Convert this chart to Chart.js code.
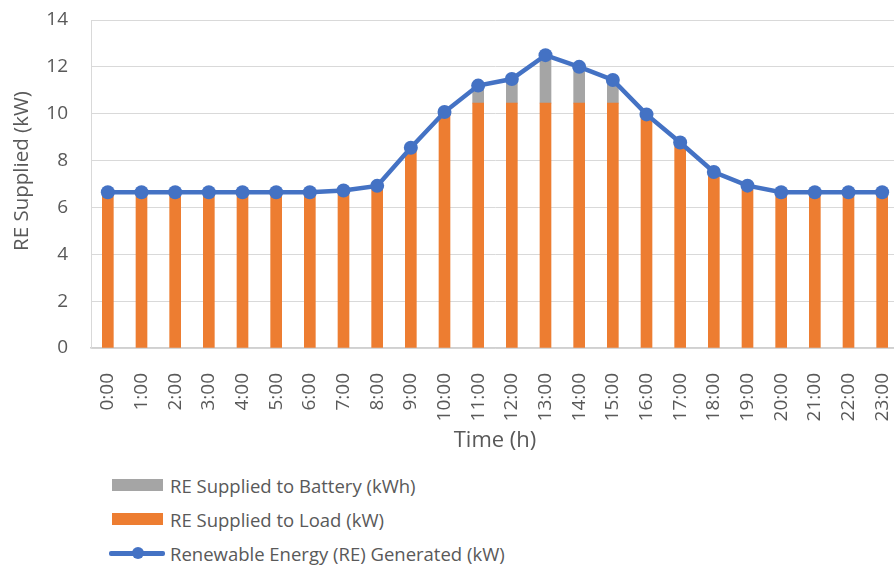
<!DOCTYPE html>
<html>
<head>
<meta charset="utf-8">
<script src="https://cdn.jsdelivr.net/npm/chart.js@4"></script>
<style>
  html, body { margin: 0; padding: 0; background: #fff; }
  #wrap { position: relative; width: 894px; height: 565px; overflow: hidden; }
  #c { position: absolute; left: 0; top: 0; }
  #legend { position: absolute; left: 109px; top: 468px; font-family: "Open Sans", sans-serif; font-size: 18.5px; color: #595959; }
  .item { display: flex; align-items: center; height: 34px; white-space: nowrap; }
  .sw { width: 51px; height: 12px; margin-right: 7px; margin-left: 3px; }
  .ln { position: relative; width: 56px; height: 12px; margin-right: 5px; }
  .ln::before { content: ""; position: absolute; left: 0; right: 0; top: 4px; height: 4.5px; background: #4472C4; border-radius: 2px; }
  .ln::after { content: ""; position: absolute; left: 23px; top: 0; width: 12px; height: 12px; border-radius: 50%; background: #4472C4; }
</style>
</head>
<body>
<div id="wrap">
  <canvas id="c" width="899" height="454"></canvas>
  <div id="legend"></div>
</div>
<script>
// Hourly renewable energy profile
const hours = ["0:00","1:00","2:00","3:00","4:00","5:00","6:00","7:00","8:00","9:00","10:00","11:00",
               "12:00","13:00","14:00","15:00","16:00","17:00","18:00","19:00","20:00","21:00","22:00","23:00"];
const generated = [6.65,6.65,6.65,6.65,6.65,6.65,6.65,6.72,6.92,8.55,10.07,11.2,
                   11.48,12.5,12.0,11.44,9.97,8.77,7.51,6.93,6.65,6.65,6.65,6.65];
const toLoad = [6.65,6.65,6.65,6.65,6.65,6.65,6.65,6.72,6.92,8.55,10.07,10.45,
                10.45,10.45,10.45,10.45,9.97,8.77,7.51,6.93,6.65,6.65,6.65,6.65];
const toBattery = [0,0,0,0,0,0,0,0,0,0,0,0.75,
                   1.03,2.05,1.55,0.99,0,0,0,0,0,0,0,0];
const yTicks = [0,2,4,6,8,10,12,14];

const labelBattery = "RE Supplied to Battery (kWh)";
const labelLoad = "RE Supplied to Load (kW)";
const labelGen = "Renewable Energy (RE) Generated (kW)";
const yTitle = "RE Supplied (kW)";
const xTitle = "Time (h)";

const FONT = "'Open Sans', sans-serif";
const TXT = "#595959";

// Vertical axis title, drawn beside the value labels
const yTitlePlugin = {
  id: "yTitle",
  afterDraw(chart) {
    const ctx = chart.ctx;
    ctx.save();
    ctx.translate(22, 171);
    ctx.rotate(-Math.PI / 2);
    ctx.font = "20.5px " + FONT;
    ctx.fillStyle = TXT;
    ctx.textAlign = "center";
    ctx.textBaseline = "middle";
    ctx.fillText(yTitle, 0, 0);
    ctx.restore();
  }
};

const chart = new Chart(document.getElementById("c"), {
  type: "bar",
  data: {
    labels: hours,
    datasets: [
      {
        type: "line", label: labelGen, data: generated, stack: "gen", order: 0,
        borderColor: "#4472C4", backgroundColor: "#4472C4", borderWidth: 4.5,
        pointRadius: 7, pointHoverRadius: 7, pointBackgroundColor: "#4472C4",
        pointBorderWidth: 0, tension: 0, clip: false
      },
      {
        label: labelLoad, data: toLoad, stack: "re", order: 1,
        backgroundColor: "#ED7D31", barThickness: 11
      },
      {
        label: labelBattery, data: toBattery, stack: "re", order: 1,
        backgroundColor: "#A5A5A5", barThickness: 11
      }
    ]
  },
  plugins: [yTitlePlugin],
  options: {
    responsive: false,
    animation: false,
    layout: { autoPadding: false, padding: { top: 20, right: 0, bottom: 0, left: 0 } },
    plugins: { legend: { display: false }, tooltip: { enabled: false } },
    scales: {
      x: {
        stacked: true,
        afterFit: (s) => { s.paddingLeft = 0; s.paddingRight = 0; s.height = 106; },
        grid: { display: false },
        border: { display: true, color: "#D0D0D0", width: 1.5 },
        ticks: { minRotation: 90, maxRotation: 90, padding: 17, color: TXT, font: { family: FONT, size: 19 } },
        title: { display: true, text: xTitle, color: TXT, padding: { top: 0, bottom: 0 }, font: { family: FONT, size: 22 } }
      },
      y: {
        stacked: true,
        min: 0, max: 14,
        afterBuildTicks: (s) => { s.ticks = yTicks.map(v => ({ value: v })); },
        afterFit: (s) => { s.width = 91; s.paddingTop = 0; s.paddingBottom = 0; },
        grid: { color: "#D9D9D9", lineWidth: 1, drawTicks: false },
        border: { display: true, color: "#D9D9D9", width: 1 },
        ticks: { padding: 23, color: TXT, font: { family: FONT, size: 19 } },
        title: { display: false }
      }
    }
  }
});

// Legend rows, in the order of the stacked series then the line
const legend = document.getElementById("legend");
[
  { label: labelBattery, color: "#A5A5A5", kind: "box" },
  { label: labelLoad, color: "#ED7D31", kind: "box" },
  { label: labelGen, color: "#4472C4", kind: "line" }
].forEach(it => {
  const row = document.createElement("div");
  row.className = "item";
  const mark = document.createElement("span");
  if (it.kind === "box") { mark.className = "sw"; mark.style.background = it.color; }
  else { mark.className = "ln"; }
  const txt = document.createElement("span");
  txt.textContent = it.label;
  row.appendChild(mark); row.appendChild(txt);
  legend.appendChild(row);
});
</script>
</body>
</html>
